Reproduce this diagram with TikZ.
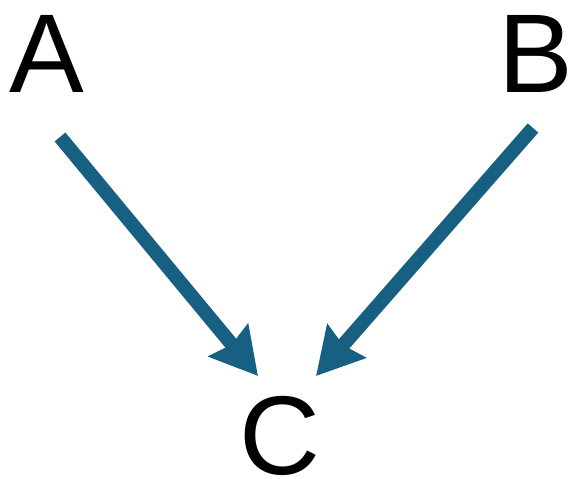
\documentclass[tikz,border=0pt]{standalone}
\usepackage{fontspec}
\setmainfont{Liberation Sans}
\usetikzlibrary{arrows.meta}
\definecolor{arrowblue}{RGB}{23,96,130}
\begin{document}
\begin{tikzpicture}[x=1pt,y=-1pt,
  letter/.style={anchor=base,inner sep=0pt,font=\fontsize{112}{112}\selectfont},
  link/.style={draw=arrowblue,line width=14pt,-{Stealth[length=46pt,width=50pt,inset=5pt]}}]
\useasboundingbox (0,0) rectangle (571,479);
\node[letter] (A) at (47,92) {A};
\node[letter] (B) at (536,92) {B};
\node[letter] (C) at (280,474) {C};
\coordinate (a1) at (60,137);
\coordinate (a2) at (258,376);
\coordinate (b1) at (533,128);
\coordinate (b2) at (316,376);
\draw[link] (a1) -- (a2);
\draw[link] (b1) -- (b2);
\end{tikzpicture}
\end{document}
